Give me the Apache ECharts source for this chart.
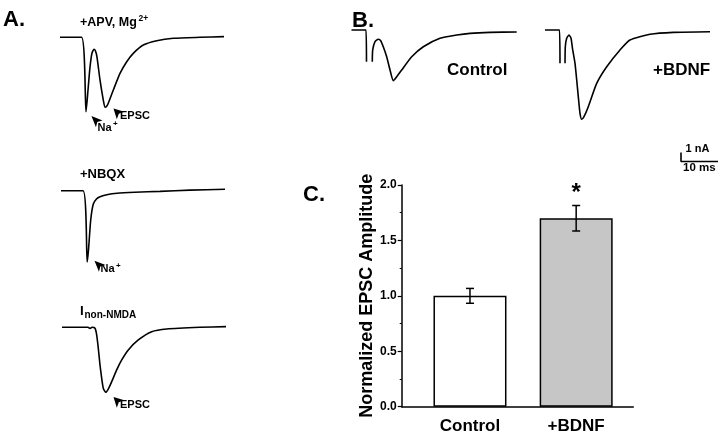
<!DOCTYPE html>
<html><head><meta charset="utf-8">
<script src="https://cdn.jsdelivr.net/npm/echarts@6/dist/echarts.min.js"></script>
<style>html,body{margin:0;padding:0;background:#fff}#c{width:720px;height:436px}</style>
</head><body><div id="c"></div>
<script>
// ---- data (time in ms, current in nA) ----
const traceAPV = [[0,0],[5.81,0],[7.03,-8.27],[7.57,-5.86],[8.11,-3.3],[8.65,-1.74],[9.19,-1.33],[9.59,-1.52],[10.0,-2.19],[10.81,-4.74],[11.70,-6.97],[12.16,-7.78],[12.57,-7.69],[13.05,-7.33],[14.41,-5.86],[16.22,-4.0],[18.03,-2.71],[19.81,-1.78],[22.51,-0.86],[26.14,-0.38],[30.62,-0.11],[37.84,0],[44.32,0.07]];
const traceNBQX = [[0,0],[5.95,0],[7.08,-7.92],[7.43,-6.59],[8.03,-3.26],[8.73,-1.48],[9.59,-0.92],[10.54,-0.67],[12.70,-0.42],[15.14,-0.29],[20.0,-0.18],[26.76,-0.07],[34.86,0.06],[44.32,0.16]];
const traceNonNMDA = [[0,0],[7.03,0],[7.57,-0.13],[8.11,0],[8.92,-0.11],[9.38,-0.86],[9.81,-2.33],[10.27,-4.19],[10.73,-5.67],[11.16,-6.78],[11.81,-7.22],[12.51,-6.86],[13.43,-6.04],[14.78,-4.74],[16.14,-3.63],[17.92,-2.52],[20.62,-1.41],[24.24,-0.49],[28.30,-0.19],[37.30,0],[44.32,0.07]];
const ctrlArtifact = [[0,0],[3.92,0],[4.05,-3.52]];
const ctrlEPSC = [[5.62,-3.52],[5.73,-2.22],[6.35,-1.30],[7.24,-1.03],[7.89,-1.19],[8.59,-1.86],[9.51,-2.97],[10.41,-4.44],[11.30,-5.63],[12.22,-5.19],[13.57,-4.44],[16.27,-2.97],[19.41,-1.86],[23.92,-0.92],[28.43,-0.56],[32.03,-0.37],[37.43,-0.26],[44.65,-0.22]];
const bdnfArtifact = [[0,0],[3.92,0],[4.05,-3.7]];
const bdnfEPSC = [[5.41,-3.7],[5.49,-1.86],[5.86,-0.92],[6.49,-0.56],[7.03,-0.92],[7.49,-2.22],[8.11,-3.7],[8.57,-5.56],[9.0,-7.41],[9.46,-9.26],[9.92,-9.92],[10.54,-9.63],[11.70,-8.52],[13.97,-5.93],[16.68,-4.08],[20.27,-2.22],[22.97,-1.11],[28.38,-0.48],[34.68,-0.26],[44.59,-0.19]];
const scaleBarMs = 10;
const scaleBarNA = 1;
const barCategories = ['Control', '+BDNF'];
const barMeans = [1.0, 1.70];
const barSEM = [0.067, 0.115];
const barColors = ['#ffffff', '#c6c6c6'];
const yTickLabels = ['0.0','0.5','1.0','1.5','2.0'];

// ---- layout ----
const PX_MS = 3.7, PX_NA = 9;
const FONT = '"Liberation Sans", Arial, sans-serif';
const grids = [], xAxes = [], yAxes = [];
function traceGrid(left, baseY, tMax, iMin, iMax) {
  const idx = grids.length;
  grids.push({left: left, top: baseY - iMax * PX_NA, width: tMax * PX_MS, height: (iMax - iMin) * PX_NA});
  xAxes.push({gridIndex: idx, type: 'value', min: 0, max: tMax, show: false});
  yAxes.push({gridIndex: idx, type: 'value', min: iMin, max: iMax, show: false});
  return idx;
}
const gA1 = traceGrid(60, 37.3, 45, -10, 1);
const gA2 = traceGrid(61, 190.7, 45, -10, 1);
const gA3 = traceGrid(62, 327.3, 45, -10, 1);
const gBc = traceGrid(351.5, 30, 45, -8, 1);
const gBb = traceGrid(545, 30, 45, -11, 1);
const gSc = traceGrid(681, 161.5, scaleBarMs, 0, scaleBarNA);

function arrow(coord, size) {
  return {coord: coord, symbol: 'arrow', symbolSize: size || [8, 10], symbolRotate: 45,
          itemStyle: {color: '#000'}, label: {show: false}};
}
function lineSeries(g, data, marks) {
  const s = {type: 'line', xAxisIndex: g, yAxisIndex: g, data: data, showSymbol: false, smooth: 0.2,
    clip: false, silent: true, lineStyle: {color: '#000', width: 1.6}, animation: false};
  if (marks) s.markPoint = {data: marks, animation: false, silent: true};
  return s;
}
const series = [
  lineSeries(gA1, traceAPV, [arrow([8.5, -8.75], [7, 11]), arrow([14.46, -7.91])]),
  lineSeries(gA2, traceNBQX, [arrow([9.05, -7.77], [7, 11])]),
  lineSeries(gA3, traceNonNMDA, [arrow([13.92, -7.74])]),
  lineSeries(gBc, ctrlArtifact), lineSeries(gBc, ctrlEPSC),
  lineSeries(gBb, bdnfArtifact), lineSeries(gBb, bdnfEPSC),
  lineSeries(gSc, [[0, scaleBarNA], [0, 0], [scaleBarMs, 0]])
];
series[series.length - 1].smooth = false;

// bar chart grid
const gBar = grids.length;
grids.push({left: 401.7, top: 185, width: 231.6, height: 221.7});
xAxes.push({gridIndex: gBar, type: 'value', min: 0.357, max: 2.538,
  axisLine: {show: true, lineStyle: {color: '#000', width: 1.5}}, axisTick: {show: false}, splitLine: {show: false},
  axisLabel: {customValues: [1, 2], formatter: v => barCategories[Math.round(v) - 1], margin: 11,
    color: '#000', fontFamily: FONT, fontWeight: 'bold', fontSize: 17}});
yAxes.push({gridIndex: gBar, type: 'value', min: 0, max: 2, interval: 0.5,
  name: 'Normalized EPSC Amplitude', nameLocation: 'middle', nameGap: 24,
  nameTextStyle: {color: '#000', fontFamily: FONT, fontWeight: 'bold', fontSize: 18},
  axisLine: {show: true, lineStyle: {color: '#000', width: 1.5}},
  axisTick: {show: true, inside: false, length: 4, lineStyle: {color: '#000', width: 1.2}},
  minorTick: {show: true, splitNumber: 2, length: 2, lineStyle: {color: '#000', width: 1}},
  splitLine: {show: false},
  axisLabel: {margin: 5, formatter: v => yTickLabels[Math.round(v * 2)], color: '#000', fontFamily: FONT, fontWeight: 'bold', fontSize: 12}});

series.push({type: 'bar', xAxisIndex: gBar, yAxisIndex: gBar, barWidth: 73, silent: true, animation: false,
  data: barMeans.map((m, i) => ({value: [i + 1, m], itemStyle: {color: barColors[i], borderColor: '#000', borderWidth: 1.5}})),
  markPoint: {silent: true, animation: false, data: [{coord: [2, 1.92], symbol: 'circle', symbolSize: 1,
    itemStyle: {color: 'rgba(0,0,0,0)'},
    label: {show: true, position: 'inside', formatter: '*', color: '#000', fontFamily: FONT, fontWeight: 'bold', fontSize: 24}}]}});
series.push({type: 'custom', xAxisIndex: gBar, yAxisIndex: gBar, silent: true, animation: false,
  data: barMeans.map((m, i) => [i + 1, m - barSEM[i], m + barSEM[i]]),
  renderItem: function (params, api) {
    const lo = api.coord([api.value(0), api.value(1)]);
    const hi = api.coord([api.value(0), api.value(2)]);
    const w = 4;
    const st = {stroke: '#000', lineWidth: 1.5};
    return {type: 'group', children: [
      {type: 'line', shape: {x1: lo[0], y1: lo[1], x2: hi[0], y2: hi[1]}, style: st},
      {type: 'line', shape: {x1: lo[0] - w, y1: lo[1], x2: lo[0] + w, y2: lo[1]}, style: st},
      {type: 'line', shape: {x1: hi[0] - w, y1: hi[1], x2: hi[0] + w, y2: hi[1]}, style: st}
    ]};
  }, z: 5});

function txt(t, x, y, size, extra) {
  return Object.assign({type: 'text', style: {text: t, x: x, y: y, fill: '#000',
    font: 'bold ' + size + 'px ' + FONT, verticalAlign: 'middle', align: 'left'}}, extra || {});
}
const graphic = [
  txt('A.', 3, 20, 22),
  txt('+APV, Mg', 80, 22.5, 12.5), txt('2+', 138.5, 18.5, 8.5),
  txt('Na', 97.5, 127.5, 11), txt('+', 113, 124, 8),
  txt('EPSC', 120, 115.5, 11),
  txt('+NBQX', 80, 174.2, 13),
  txt('Na', 100.5, 269, 11), txt('+', 116, 265.5, 8),
  txt('I', 80, 311, 13.5), txt('non-NMDA', 84.5, 315.5, 10),
  txt('EPSC', 120, 405, 11),
  txt('B.', 352, 21, 22),
  txt('Control', 447, 70.5, 17), txt('+BDNF', 653, 70.5, 17),
  txt('1 nA', 685.5, 149, 11), txt('10 ms', 683, 167.5, 11.5),
  txt('C.', 303, 195, 22)
];

const chart = echarts.init(document.getElementById('c'), null, {renderer: 'canvas'});
chart.setOption({animation: false, backgroundColor: '#fff', grid: grids, xAxis: xAxes, yAxis: yAxes, series: series, graphic: graphic});
</script></body></html>
